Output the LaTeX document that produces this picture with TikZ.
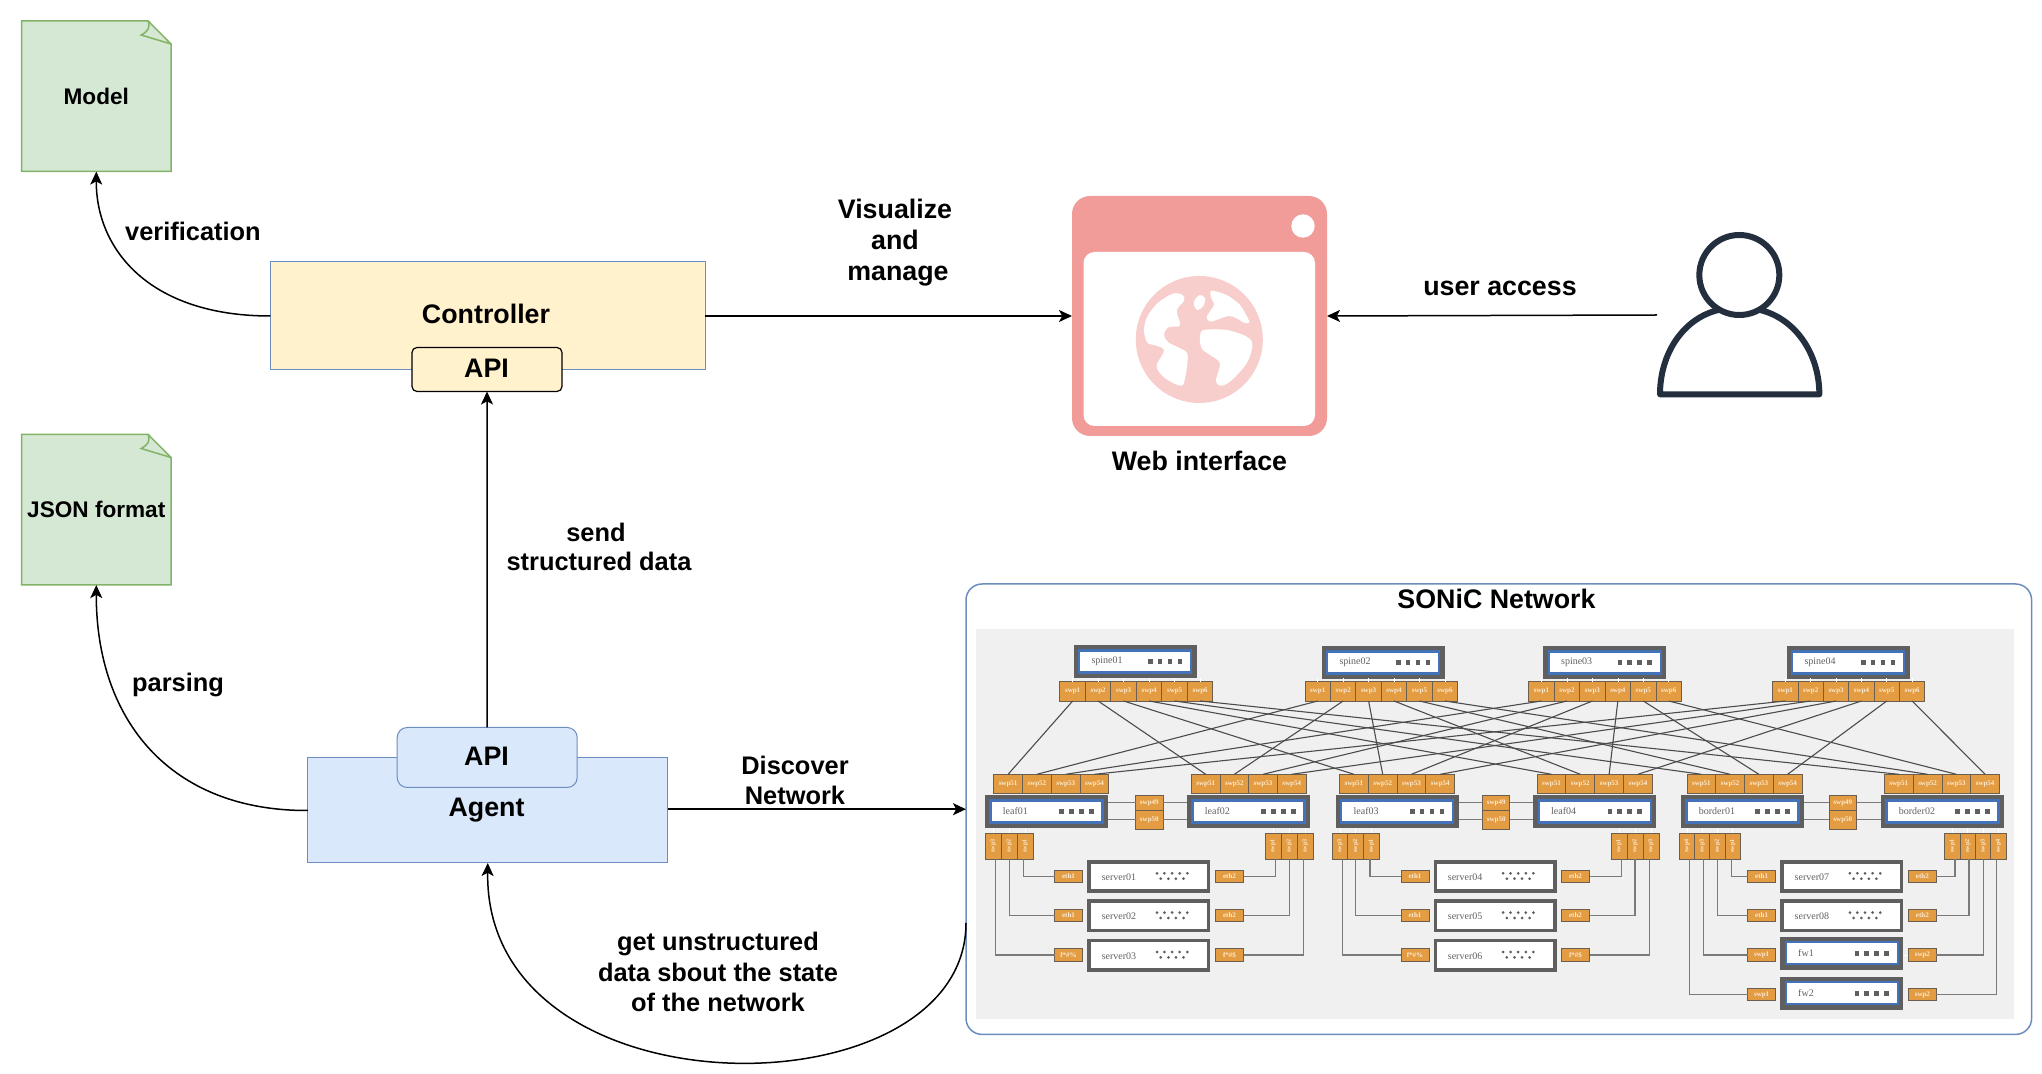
\documentclass[tikz,border=0pt]{standalone}
\usepackage{fontspec}
\usepackage{graphicx}
\setmainfont{Liberation Sans}
\newfontfamily\devserif{Liberation Serif}
\usetikzlibrary{arrows.meta,calc}
\definecolor{notefill}{HTML}{D5E8D4}
\definecolor{notedraw}{HTML}{82B366}
\definecolor{ctrlfill}{HTML}{FFF2CC}
\definecolor{bluedraw}{HTML}{6C8EBF}
\definecolor{agentfill}{HTML}{DAE8FC}
\definecolor{webpink}{HTML}{F19C99}
\definecolor{globepink}{HTML}{F8CECC}
\definecolor{persondark}{HTML}{232F3E}
\definecolor{netbg}{HTML}{F0F0F0}
\definecolor{devgray}{HTML}{5F5F5F}
\definecolor{devblue}{HTML}{4472B8}
\definecolor{portfill}{HTML}{E39C42}
\definecolor{portline}{HTML}{6A5F50}
\definecolor{porttext}{HTML}{FCEBD3}
\tikzset{
  mainlab/.style={font=\bfseries\fontsize{13.4}{16}\selectfont,text=black,inner sep=0pt,align=center},
  edgelab/.style={font=\bfseries\fontsize{12.7}{15}\selectfont,text=black,inner sep=0pt,align=center},
  notelab/.style={font=\bfseries\fontsize{11.3}{13}\selectfont,text=black,inner sep=0pt},
  arr/.style={draw=black,line width=0.75pt,-{Stealth[length=6.5pt,width=6pt,inset=1.6pt]}},
  swport/.style={draw=portline,fill=portfill,line width=0.45pt,inner sep=0pt,outer sep=0pt,
     text=porttext,font=\devserif\bfseries\fontsize{3.5}{4}\selectfont},
  devbody/.style={fill=devgray,inner sep=0pt,outer sep=0pt,minimum width=61.5pt,minimum height=16.5pt,anchor=north west},
  devname/.style={font=\devserif\fontsize{5}{6}\selectfont,text=black!62,inner sep=0pt,anchor=west},
  netlink/.style={draw=black!70,line width=0.55pt},
  netwire/.style={draw=black!52,line width=0.6pt},
  tick/.style={draw=white,line width=0.35pt},
}
% switch box with blue inner frame and four status squares
\newcommand{\swdev}[4]{%
  \begin{scope}[shift={(#2,#3)}]
    \node[devbody] (#1) at (0,0) {};
    \fill[devblue] (4.3,4.3) rectangle (118.7,28.7);
    \fill[white] (6.7,6.7) rectangle (116.3,26.3);
    \node[devname] (#1-lab) at (17.5,16.5) {#4};
    \foreach \q in {76.7,86.3,96.3,106.3} \fill[devgray] (\q-2.4,14.1) rectangle (\q+2.4,18.9);
  \end{scope}}
% server box with nine dots
\newcommand{\srvbox}[4]{%
  \begin{scope}[shift={(#2,#3)}]
    \node[devbody] (#1) at (0,0) {};
    \fill[white] (3.6,3.6) rectangle (119.4,29.4);
    \node[devname] (#1-lab) at (14,17.3) {#4};
    \foreach \q in {69.6,77,84.7,92.3,99.9} \fill[devgray] (\q,13.3) circle[radius=1.5];
    \foreach \q in {73.3,81,88.5,96.1} \fill[devgray] (\q,18.7) circle[radius=1.5];
  \end{scope}}
% horizontal row of ports: prefix,x,y,w,h,labels
\newcommand{\portrow}[6]{%
  \foreach \lab [count=\i] in {#6} {
    \pgfmathsetmacro{\cx}{#2+(\i-0.5)*#4}
    \pgfmathsetmacro{\cy}{#3+#5/2}
    \node[swport,minimum width=#4*0.5pt,minimum height=#5*0.5pt] (#1-\i) at (\cx,\cy) {\lab};
  }}
% row of ports with upright text
\newcommand{\vportrow}[6]{%
  \foreach \lab [count=\i] in {#6} {
    \pgfmathsetmacro{\cx}{#2+(\i-0.5)*#4}
    \pgfmathsetmacro{\cy}{#3+#5/2}
    \node[swport,minimum width=#4*0.5pt,minimum height=#5*0.5pt,font=\devserif\bfseries\fontsize{3.1}{4}\selectfont] (#1-\i) at (\cx,\cy) {\rotatebox{90}{\lab}};
    \draw[tick] (#1-\i.north) -- ++(0,-5.5);
  }}
\newcommand{\ethport}[4]{%
  \node[swport,minimum width=14pt,minimum height=6.2pt] (#1) at (#2,#3) {#4};}
\newcommand{\notebox}[3]{%
  \begin{scope}[shift={(21.7,#2)}]
    \draw[draw=notedraw,fill=notefill,line width=0.75pt,line join=miter] (0,0) -- (126.5,0) -- (149.3,23) -- (149.3,150.3) -- (0,150.3) -- cycle;
    \draw[draw=notedraw,line width=0.75pt] (126.5,0) .. controls (128.5,7) and (126.5,10) .. (119.5,14) -- (149.3,23);
    \node[notelab,minimum width=74.6pt,minimum height=75.1pt] (#1) at (74.6,75.1) {#3};
  \end{scope}}
\begin{document}
\begin{tikzpicture}[x=0.5pt,y=-0.5pt]
\useasboundingbox (0,0) rectangle (2042,1074);
\fill[white] (0,0) rectangle (2042,1074);

% notes
\notebox{model}{21}{Model}
\notebox{json}{434.5}{JSON format}

% controller
\node[draw=bluedraw,fill=ctrlfill,line width=0.5pt,minimum width=217.5pt,minimum height=54pt,inner sep=0pt,outer sep=0pt] (controller) at (487.8,316) {};
\node[mainlab] (controllerlab) at (486,314) {Controller};
\node[draw=black,fill=ctrlfill,line width=0.6pt,rounded corners=2.5pt,minimum width=75pt,minimum height=22pt,inner sep=0pt,outer sep=0pt] (ctrlapi) at (487,369.5) {};
\node[mainlab] (ctrlapilab) at (486.5,368.5) {API};

% agent
\node[draw=bluedraw,fill=agentfill,line width=0.5pt,minimum width=180pt,minimum height=52.5pt,inner sep=0pt,outer sep=0pt] (agent) at (487.8,810.5) {};
\node[mainlab] (agentlab) at (486.5,810) {Agent};
\node[draw=bluedraw,fill=agentfill,line width=0.5pt,rounded corners=5pt,minimum width=90pt,minimum height=30pt,inner sep=0pt,outer sep=0pt] (agentapi) at (487.2,757.5) {};
\node[mainlab] (agentapilab) at (486.5,756) {API};

% web interface icon
\node[minimum width=127.5pt,minimum height=120pt,inner sep=0pt,outer sep=0pt] (web) at (1199.5,316) {};
\fill[webpink,rounded corners=9pt] (1072,196) rectangle (1327,436);
\fill[white,rounded corners=5.5pt] (1083.5,252) rectangle (1315,426);
\fill[white] (1303,226) circle[radius=11.7];
\fill[globepink] (1199.3,339.5) circle[radius=63.5];
\begin{scope}[shift={(1040,180)},x=0.16667pt,y=-0.16667pt]
  \fill[white] plot[smooth cycle,tension=0.55] coordinates {(312,450)(322,410)(352,370)(398,341)(428,345)(432,362)(410,392)(420,436)(385,442)(372,465)(385,487)(420,505)(443,525)(434,600)(420,617)(372,592)(350,558)(372,512)(350,497)(322,488)};
  \fill[white] plot[smooth cycle,tension=0.6] coordinates {(465,358)(480,345)(495,355)(490,378)(472,390)(462,375)};
  \fill[white] plot[smooth cycle,tension=0.45] coordinates {(515,332)(560,345)(600,375)(628,425)(612,428)(590,415)(565,408)(512,425)(500,410)(522,375)(512,350)};
  \fill[white] plot[smooth cycle,tension=0.55] coordinates {(492,450)(560,450)(620,470)(637,495)(620,550)(570,605)(540,617)(528,600)(540,550)(510,525)(485,505)(480,470)};
\end{scope}
\node[mainlab] (weblab) at (1199.5,461) {Web interface};

% user
\begin{scope}[shift={(1640,220)},x=0.16667pt,y=-0.16667pt]
  \draw[draw=persondark,line width=3pt] (298,165) circle[radius=120];
  \draw[draw=persondark,line width=3pt,line join=round,line cap=round] (235,270) .. controls (130,295) and (60,400) .. (60,523) -- (538,523) .. controls (538,400) and (465,295) .. (360,270);
\end{scope}
\coordinate (userleft) at (1657,315);

% SONiC frame
\node[draw=bluedraw,fill=white,line width=0.75pt,rounded corners=8pt,minimum width=532.8pt,minimum height=225.2pt,inner sep=0pt,outer sep=0pt] (sonic) at (1498.8,809.2) {};
\node[mainlab] (soniclab) at (1496.5,599) {SONiC Network};
\fill[netbg] (975.5,629) rectangle (2014.3,1019);
\coordinate (sonicret) at (966,923);

% spines
\swdev{spine01}{1073.6}{645}{spine01}
\swdev{spine02}{1321.6}{646}{spine02}
\swdev{spine03}{1543.2}{646}{spine03}
\swdev{spine04}{1786.6}{646}{spine04}
\portrow{s1}{1059.9}{681.7}{25.5}{19.3}{swp1,swp2,swp3,swp4,swp5,swp6}
\portrow{s2}{1305}{681.7}{25.44}{19.3}{swp1,swp2,swp3,swp4,swp5,swp6}
\portrow{s3}{1528.7}{681.7}{25.47}{19.3}{swp1,swp2,swp3,swp4,swp5,swp6}
\portrow{s4}{1772.7}{681.7}{25.35}{19.3}{swp1,swp2,swp3,swp4,swp5,swp6}

% leaves and borders
\swdev{leaf01}{985}{795}{leaf01}
\swdev{leaf02}{1187}{795}{leaf02}
\swdev{leaf03}{1335.7}{795}{leaf03}
\swdev{leaf04}{1533.2}{795}{leaf04}
\swdev{border01}{1681}{795}{border01}
\swdev{border02}{1881}{795}{border02}
\portrow{d1}{993.7}{774.3}{28.8}{19}{swp51,swp52,swp53,swp54}
\portrow{d2}{1191.4}{774.3}{28.65}{19}{swp51,swp52,swp53,swp54}
\portrow{d3}{1339.5}{774.3}{28.8}{19}{swp51,swp52,swp53,swp54}
\portrow{d4}{1537}{774.3}{28.85}{19}{swp51,swp52,swp53,swp54}
\portrow{d5}{1687}{774.3}{28.75}{19}{swp51,swp52,swp53,swp54}
\portrow{d6}{1884.4}{774.3}{28.78}{19}{swp51,swp52,swp53,swp54}

% spine to leaf links
\foreach \s in {1,2,3,4}
  \foreach \d in {1,2,3,4,5,6} {
    \draw[netlink] (s\s-\d.south) -- (d\d-\s.north);
    \draw[tick] (s\s-\d.north) -- ++(0,-3.4);
  }

% peer links
\foreach \na/\nb/\px/\pn in {leaf01/leaf02/1149.3/a,leaf03/leaf04/1496.2/b,border01/border02/1842.8/c} {
  \node[swport,minimum width=13.7pt,minimum height=7.9pt] (\pn49) at (\px,802.9) {swp49};
  \node[swport,minimum width=13.7pt,minimum height=9.1pt] (\pn50) at (\px,819.9) {swp50};
  \draw[netwire] (\na.east |- \pn49.west) -- (\pn49.west);
  \draw[netwire] (\pn49.east) -- (\nb.west |- \pn49.east);
  \draw[netwire] (\na.east |- \pn50.west) -- (\pn50.west);
  \draw[netwire] (\pn50.east) -- (\nb.west |- \pn50.east);
}

% servers and firewalls
\srvbox{server01}{1087.4}{860}{server01}
\srvbox{server02}{1087.4}{899.3}{server02}
\srvbox{server03}{1087.4}{938.7}{server03}
\srvbox{server04}{1433.5}{860}{server04}
\srvbox{server05}{1433.5}{899.3}{server05}
\srvbox{server06}{1433.5}{938.7}{server06}
\srvbox{server07}{1780.3}{860}{server07}
\srvbox{server08}{1780.3}{899.3}{server08}
\swdev{fw1}{1780.3}{936.7}{fw1}
\swdev{fw2}{1780.3}{976.7}{fw2}

% server side ports
\vportrow{va}{985.1}{833.3}{16.07}{25.7}{swp3,swp2,swp1}
\vportrow{vb}{1265}{833.3}{16.07}{25.7}{swp1,swp2,swp3}
\vportrow{vc}{1332.2}{833.3}{15.73}{25.7}{swp3,swp2,swp1}
\vportrow{vd}{1611}{833.3}{16}{25.7}{swp1,swp2,swp3}
\vportrow{ve}{1679.4}{833.3}{15.2}{25.7}{swp4,swp3,swp2,swp1}
\vportrow{vf}{1944.9}{833.3}{15.28}{25.7}{swp1,swp2,swp3,swp4}

% interface ports
\ethport{a1}{1068.5}{876.2}{eth1}
\ethport{a2}{1068.5}{915.5}{eth1}
\ethport{a3}{1068.5}{954.9}{f*\#\%}
\ethport{b1}{1229.5}{876.2}{eth2}
\ethport{b2}{1229.5}{915.5}{eth2}
\ethport{b3}{1229.5}{954.9}{f*\#\$}
\ethport{c1}{1415}{876.2}{eth1}
\ethport{c2}{1415}{915.5}{eth1}
\ethport{c3}{1415}{954.9}{f*\#\%}
\ethport{d1x}{1575.5}{876.2}{eth2}
\ethport{d2x}{1575.5}{915.5}{eth2}
\ethport{d3x}{1575.5}{954.9}{f*\#\$}
\ethport{e1}{1761.6}{876.2}{eth1}
\ethport{e2}{1761.6}{915.5}{eth1}
\ethport{e3}{1761.6}{954.9}{swp1}
\ethport{e4}{1761.6}{994.7}{swp1}
\ethport{f1}{1922.4}{876.2}{eth2}
\ethport{f2}{1922.4}{915.5}{eth2}
\ethport{f3}{1922.4}{954.9}{swp2}
\ethport{f4}{1922.4}{994.7}{swp2}

% wires from ports to interfaces
\draw[netwire] ([xshift=-0.75pt]va-3.south) |- (a1.west);
\draw[netwire] (va-2.south) |- (a2.west);
\draw[netwire] ([xshift=1.2pt]va-1.south) |- (a3.west);
\draw[netwire] ([xshift=1.2pt]vb-1.south) |- (b1.east);
\draw[netwire] (vb-2.south) |- (b2.east);
\draw[netwire] ([xshift=-0.75pt]vb-3.south) |- (b3.east);
\draw[netwire] ([xshift=-0.75pt]vc-3.south) |- (c1.west);
\draw[netwire] (vc-2.south) |- (c2.west);
\draw[netwire] ([xshift=1.2pt]vc-1.south) |- (c3.west);
\draw[netwire] ([xshift=1.2pt]vd-1.south) |- (d1x.east);
\draw[netwire] (vd-2.south) |- (d2x.east);
\draw[netwire] ([xshift=-0.75pt]vd-3.south) |- (d3x.east);
\draw[netwire] ([xshift=-0.75pt]ve-4.south) |- (e1.west);
\draw[netwire] (ve-3.south) |- (e2.west);
\draw[netwire] ([xshift=0.6pt]ve-2.south) |- (e3.west);
\draw[netwire] ([xshift=1.2pt]ve-1.south) |- (e4.west);
\draw[netwire] ([xshift=1.2pt]vf-1.south) |- (f1.east);
\draw[netwire] ([xshift=0.6pt]vf-2.south) |- (f2.east);
\draw[netwire] (vf-3.south) |- (f3.east);
\draw[netwire] ([xshift=-0.75pt]vf-4.south) |- (f4.east);
\draw[tick] (f3.west) -- ++(-5,0);

% main connectors
\draw[arr] (controller.west) .. controls (150,316) and (96,250) .. (model.south);
\draw[arr] (agent.west) .. controls (170,811) and (96,720) .. (json.south);
\draw[arr] (controller.east) -- (web.west);
\draw[arr] (userleft) -- (web.east);
\draw[arr] (agentapi.north) -- (ctrlapi.south);
\draw[arr] (agent.east |- sonic.west) -- (sonic.west);
\draw[arr] (sonicret) .. controls (966,1116) and (484,1120) .. (agent.south);

% labels
\node[edgelab] (verif) at (193,231) {verification};
\node[mainlab] (vis1) at (895,209) {Visualize};
\node[mainlab] (vis2) at (895,240) {and};
\node[mainlab] (vis3) at (898,276) {manage};
\node[mainlab] (uacc) at (1500,288.5) {user access};
\node[edgelab] (send1) at (596,532) {send};
\node[edgelab] (send2) at (599,561) {structured data};
\node[edgelab] (pars) at (178,685) {parsing};
\node[edgelab] (disc1) at (795,765) {Discover};
\node[edgelab] (disc2) at (795,795) {Network};
\node[edgelab] (get1) at (718,944) {get unstructured};
\node[edgelab] (get2) at (718,972) {data sbout the state};
\node[edgelab] (get3) at (718,1002) {of the network};
\end{tikzpicture}
\end{document}
